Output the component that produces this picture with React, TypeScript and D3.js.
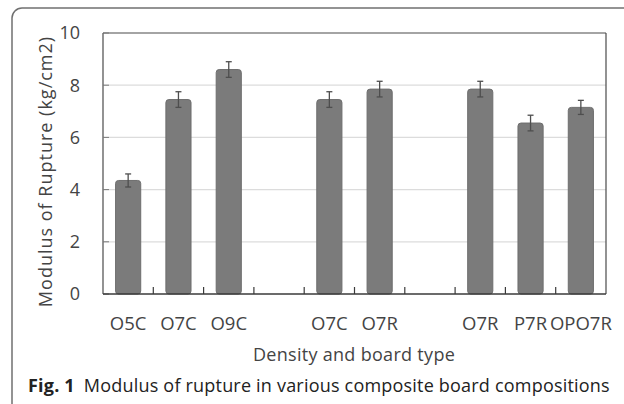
import React from "react";
import * as d3 from "d3";

// Board types along the x axis; empty strings are spacer slots between groups
const categories = ["O5C", "O7C", "O9C", "", "O7C", "O7R", "", "O7R", "P7R", "OPO7R"];
// Mean modulus of rupture (kg/cm2); null for spacer slots
const values: (number | null)[] = [4.35, 7.45, 8.6, null, 7.45, 7.85, null, 7.85, 6.55, 7.15];
// Standard error for each bar
const errors: (number | null)[] = [0.25, 0.3, 0.3, null, 0.3, 0.3, null, 0.3, 0.3, 0.27];
const yTicks = [0, 2, 4, 6, 8, 10];

const W = 624;
const H = 404;
const left = 103;
const right = 606;
const top = 33;
const bottom = 294;

const FONT = "'Open Sans', 'DejaVu Sans', sans-serif";
const TEXT = "#444";

export default function App() {
  const x = d3
    .scaleBand<number>()
    .domain(categories.map((_, i) => i))
    .range([left, right])
    .paddingInner(0.5)
    .paddingOuter(0.25);
  const slotEdge = (i: number) => left + i * ((right - left) / categories.length);
  const y = d3.scaleLinear().domain([0, 10]).range([bottom, top]);

  return (
    <svg
      width={W}
      height={H}
      style={{ position: "absolute", left: 0, top: 0, display: "block", background: "#fff" }}
    >
      {/* panel frame */}
      <path d={`M12,${H} L12,18 A10,10 0 0 1 22,8 L${W},8`} fill="none" stroke="#707070" strokeWidth={1.5} />

      {/* gridlines */}
      {yTicks.slice(1, -1).map((t) => (
        <line key={`g${t}`} x1={left} x2={right} y1={y(t)} y2={y(t)} stroke="#dcdcdc" strokeWidth={1.2} />
      ))}

      {/* plot border: top and right */}
      <line x1={left} x2={right} y1={top} y2={top} stroke="#4a4a4a" strokeWidth={1.2} />
      <line x1={right} x2={right} y1={top} y2={bottom} stroke="#4a4a4a" strokeWidth={1.2} />

      {/* y axis */}
      <line x1={left} x2={left} y1={top} y2={bottom} stroke="#4a4a4a" strokeWidth={1.2} />
      {yTicks.map((t) => (
        <g key={`yt${t}`}>
          <line x1={left} x2={left + 6} y1={y(t)} y2={y(t)} stroke="#7a7a7a" strokeWidth={1} />
          <text
            x={80}
            y={y(t)}
            dy="0.35em"
            textAnchor="end"
            fontFamily={FONT}
            fontSize={18}
            fill={TEXT}
          >
            {t}
          </text>
        </g>
      ))}

      {/* bars */}
      {values.map((v, i) =>
        v == null ? null : (
          <rect
            key={`b${i}`}
            x={x(i)!}
            y={y(v)}
            width={x.bandwidth()}
            height={y(0) - y(v)}
            rx={3}
            fill="#7b7b7b"
            stroke="#6e6e6e"
            strokeWidth={1}
          />
        )
      )}

      {/* error bars */}
      {values.map((v, i) => {
        const e = errors[i];
        if (v == null || e == null) return null;
        const cx = x(i)! + x.bandwidth() / 2;
        return (
          <g key={`e${i}`} stroke="#4e4e4e" strokeWidth={1.3}>
            <line x1={cx} x2={cx} y1={y(v + e)} y2={y(v - e)} />
            <line x1={cx - 3} x2={cx + 3} y1={y(v + e)} y2={y(v + e)} />
            <line x1={cx - 3} x2={cx + 3} y1={y(v - e)} y2={y(v - e)} />
          </g>
        );
      })}

      {/* x axis */}
      <line x1={left} x2={right} y1={bottom} y2={bottom} stroke="#3a3a3a" strokeWidth={1.5} />
      {categories.map((_, i) =>
        i === 0 ? null : (
          <line
            key={`xt${i}`}
            x1={slotEdge(i)}
            x2={slotEdge(i)}
            y1={bottom}
            y2={bottom - 7}
            stroke="#3a3a3a"
            strokeWidth={1.2}
          />
        )
      )}
      {categories.map((c, i) =>
        c === "" ? null : (
          <text
            key={`xl${i}`}
            x={x(i)! + x.bandwidth() / 2}
            y={324}
            dy="0.35em"
            textAnchor="middle"
            fontFamily={FONT}
            fontSize={18.5}
            fill={TEXT}
          >
            {c}
          </text>
        )
      )}

      {/* axis titles */}
      <text
        x={354}
        y={355}
        dy="0.35em"
        textAnchor="middle"
        fontFamily={FONT}
        fontSize={18}
        letterSpacing={0.3}
        fill={TEXT}
      >
        Density and board type
      </text>
      <text
        transform={`translate(46,${(top + 310) / 2}) rotate(-90)`}
        dy="0.35em"
        textAnchor="middle"
        fontFamily={FONT}
        fontSize={18}
        letterSpacing={1}
        fill={TEXT}
      >
        Modulus of Rupture (kg/cm2)
      </text>

      {/* caption */}
      <text x={28} y={386} dy="0.35em" fontFamily={FONT} fontSize={18} letterSpacing={0.2} fill="#222">
        <tspan fontWeight="bold">Fig. 1</tspan>
        <tspan dx={9}>Modulus of rupture in various composite board compositions</tspan>
      </text>
    </svg>
  );
}
